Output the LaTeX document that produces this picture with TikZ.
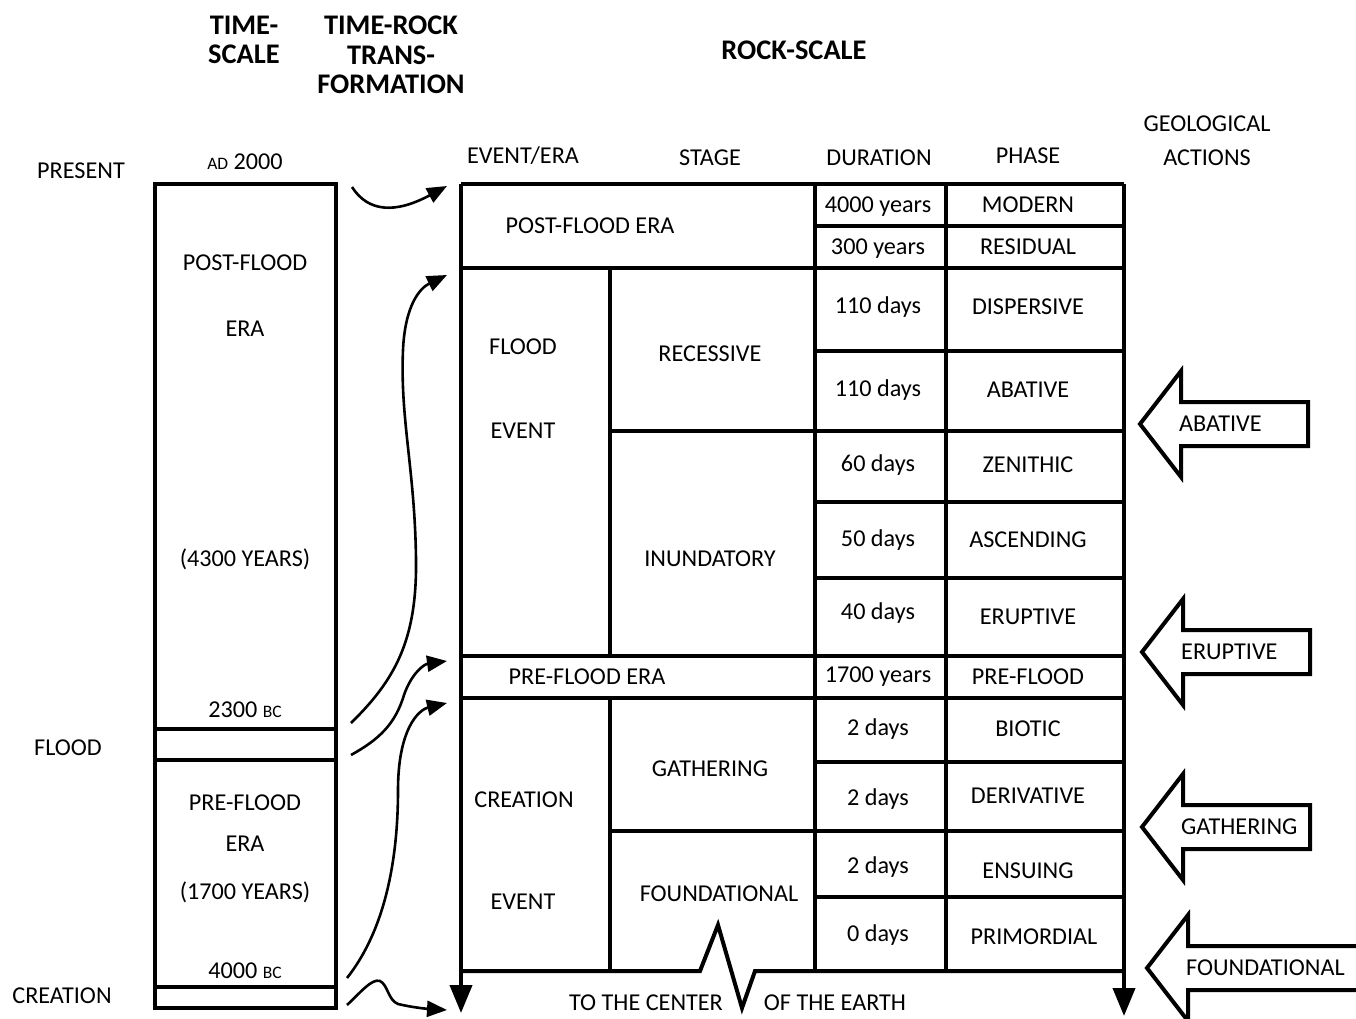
\documentclass[tikz,border=0pt]{standalone}
\usepackage{fontspec}
\setmainfont{Carlito}
\usetikzlibrary{arrows.meta,positioning}
\newcommand{\tinycaps}[1]{{\fontsize{17.5}{20}\selectfont #1}}

\begin{document}
\begin{tikzpicture}[
    x=1pt, y=-1pt,
    lab/.style={font=\fontsize{24.2}{28}\selectfont, inner sep=0pt, text height=15.5pt, text depth=0pt},
    head/.style={font=\fontsize{28.4}{29.5}\selectfont\bfseries, inner sep=0pt, align=center},
    colhead/.style={font=\fontsize{24.2}{34}\selectfont, inner sep=0pt, align=center},
    frame/.style={line width=4pt, line join=miter},
    arr/.style={-{Triangle[length=20pt,width=16pt]}, line width=2.6pt},
    downarr/.style={frame, -{Triangle[length=28pt,width=22pt]}},
    action/.style={line width=4pt, fill=white, line join=miter}
]
  \clip (0,0) rectangle (1356,1019);

  % Headings
  \node[head] (tsHead) at (244,40) {TIME-\\SCALE};
  \node[head] (trHead) at (391,55) {TIME-ROCK\\TRANS-\\FORMATION};
  \node[head] (rsHead) at (794,50) {ROCK-SCALE};
  \node[lab] (hEvent) at (523,156) {EVENT/ERA};
  \node[lab] (hStage) at (710,158) {STAGE};
  \node[lab] (hDur) at (879,158) {DURATION};
  \node[lab] (hPhase) at (1028,156) {PHASE};
  \node[colhead] (hGeo) at (1207,141) {GEOLOGICAL\\ACTIONS};

  % Time-scale column
  \node[lab] (present) at (81,171) {PRESENT};
  \node[lab] (flood) at (68,748) {FLOOD};
  \node[lab] (creation) at (62,996) {CREATION};

  \draw[frame] (155,184) rectangle (336,1008);
  \draw[frame] (155,729) -- (336,729);
  \draw[frame] (155,760) -- (336,760);
  \draw[frame] (155,987) -- (336,987);

  \node[lab] (ad) at (245,162) {\tinycaps{AD} 2000};
  \node[lab] (postA) at (245,263) {POST-FLOOD};
  \node[lab] (postB) at (245,329) {ERA};
  \node[lab] (postC) at (245,559) {(4300 YEARS)};
  \node[lab] (bcA) at (245,710) {2300 \tinycaps{BC}};
  \node[lab] (preA) at (245,803) {PRE-FLOOD};
  \node[lab] (preB) at (245,844) {ERA};
  \node[lab] (preC) at (245,892) {(1700 YEARS)};
  \node[lab] (bcB) at (245,971) {4000 \tinycaps{BC}};

  % Rock-scale table
  \draw[frame] (461,184) -- (1124,184);
  \draw[downarr] (461,184) -- (461,1013);
  \draw[downarr] (1124,184) -- (1124,1016);
  \draw[frame] (461,971) -- (700,971) -- (718,925) -- (742,1008) -- (755,971) -- (1124,971);
  \draw[frame] (461,268) -- (1124,268);
  \draw[frame] (461,656) -- (1124,656);
  \draw[frame] (461,698) -- (1124,698);
  \draw[frame] (815,184) -- (815,971);
  \draw[frame] (946,184) -- (946,971);
  \draw[frame] (610,268) -- (610,656);
  \draw[frame] (610,698) -- (610,971);
  \draw[frame] (610,431) -- (1124,431);
  \draw[frame] (610,831) -- (1124,831);
  \foreach \yy in {226,351,502,578,762,897}
    \draw[frame] (815,\yy) -- (1124,\yy);

  \node[lab] (postEra) at (590,226) {POST-FLOOD ERA};
  \node[lab] (floodA) at (523,347) {FLOOD};
  \node[lab] (floodB) at (523,431) {EVENT};
  \node[lab] (recess) at (710,354) {RECESSIVE};
  \node[lab] (inund) at (710,559) {INUNDATORY};
  \node[lab] (preEra) at (587,677) {PRE-FLOOD ERA};
  \node[lab] (creatA) at (524,800) {CREATION};
  \node[lab] (creatB) at (523,902) {EVENT};
  \node[lab] (gather) at (710,769) {GATHERING};
  \node[lab] (found) at (719,894) {FOUNDATIONAL};

  \node[lab] (d1) at (878,205) {4000 years};
  \node[lab] (d2) at (878,247) {300 years};
  \node[lab] (d3) at (878,306) {110 days};
  \node[lab] (d4) at (878,389) {110 days};
  \node[lab] (d5) at (878,464) {60 days};
  \node[lab] (d6) at (878,539) {50 days};
  \node[lab] (d7) at (878,612) {40 days};
  \node[lab] (d8) at (878,675) {1700 years};
  \node[lab] (d9) at (878,728) {2 days};
  \node[lab] (d10) at (878,798) {2 days};
  \node[lab] (d11) at (878,866) {2 days};
  \node[lab] (d12) at (878,934) {0 days};

  \node[lab] (p1) at (1028,205) {MODERN};
  \node[lab] (p2) at (1028,247) {RESIDUAL};
  \node[lab] (p3) at (1028,307) {DISPERSIVE};
  \node[lab] (p4) at (1028,390) {ABATIVE};
  \node[lab] (p5) at (1028,465) {ZENITHIC};
  \node[lab] (p6) at (1028,540) {ASCENDING};
  \node[lab] (p7) at (1028,617) {ERUPTIVE};
  \node[lab] (p8) at (1028,677) {PRE-FLOOD};
  \node[lab] (p9) at (1028,729) {BIOTIC};
  \node[lab] (p10) at (1028,796) {DERIVATIVE};
  \node[lab] (p11) at (1028,871) {ENSUING};
  \node[lab] (p12) at (1034,937) {PRIMORDIAL};

  \node[lab] (centerA) at (646,1003) {TO THE CENTER};
  \node[lab] (centerB) at (835,1003) {OF THE EARTH};

  % Time-rock transformation arrows
  \coordinate (tPresent) at (352,187);
  \coordinate (tFloodTop) at (351,723);
  \coordinate (tFloodBot) at (351,755);
  \coordinate (tCreatTop) at (347,978);
  \coordinate (tCreatBot) at (347,1005);
  \coordinate (rPost) at (447,186);
  \coordinate (rFlood) at (447,275);
  \coordinate (rPre) at (447,661);
  \coordinate (rCreat) at (447,703);
  \coordinate (rCenter) at (447,1010);

  \draw[arr] (tPresent) .. controls (368,212) and (395,214) .. (rPost);
  \draw[arr] (tFloodTop) .. controls (395,680) and (417,640) .. (416,560)
    .. controls (415,470) and (400,420) .. (403,350)
    .. controls (405,305) and (420,288) .. (rFlood);
  \draw[arr] (tFloodBot) .. controls (378,740) and (395,725) .. (404,695)
    .. controls (412,672) and (425,664) .. (rPre);
  \draw[arr] (tCreatTop) .. controls (385,930) and (398,860) .. (398,790)
    .. controls (398,730) and (418,710) .. (rCreat);
  \draw[arr] (tCreatBot) .. controls (360,993) and (372,978) .. (380,981)
    .. controls (388,985) and (388,1000) .. (398,1004)
    .. controls (415,1008) and (430,1009) .. (rCenter);

  % Geological actions
  \foreach \ya/\xt/\xr/\txt in {424/1140/1308/ABATIVE, 652/1142/1310/ERUPTIVE, 827/1142/1310/GATHERING, 968/1147/1400/FOUNDATIONAL} {
    \draw[action] (\xt,\ya) -- (\xt+41,\ya-53) -- (\xt+41,\ya-22) -- (\xr,\ya-22)
      -- (\xr,\ya+22) -- (\xt+41,\ya+22) -- (\xt+41,\ya+53) -- cycle;
    \node[lab, anchor=west] (act-\txt) at (\xt+39,\ya) {\txt};
  }
\end{tikzpicture}
\end{document}
